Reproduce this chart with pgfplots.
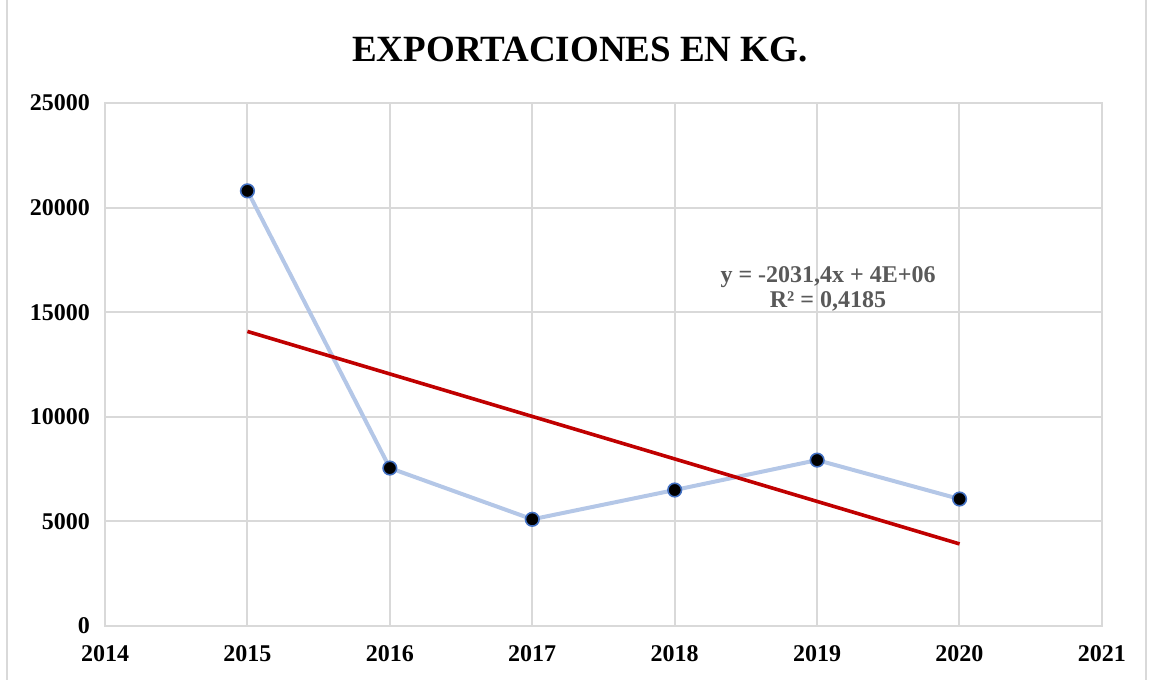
\documentclass[border=0pt]{standalone}
\usepackage{fontspec}
\setmainfont{Liberation Serif}
\usepackage{pgfplots}
\pgfplotsset{compat=1.18}
\definecolor{gridgray}{HTML}{D9D9D9}
\definecolor{serie}{HTML}{B4C7E7}
\definecolor{marca}{HTML}{4472C4}
\definecolor{tendencia}{HTML}{C00000}
\definecolor{textogris}{HTML}{595959}
\begin{document}
\begin{tikzpicture}
\path[use as bounding box] (0,0) rectangle (574.5pt,339.5pt);
\draw[gridgray, line width=0.8pt] (3.5pt,-1pt) rectangle (573pt,340pt);
\begin{axis}[
  at={(52.5pt,26.5pt)}, anchor=south west,
  scale only axis, width=498.5pt, height=261.5pt,
  xmin=2014, xmax=2021, ymin=0, ymax=25000,
  xtick={2014,...,2021}, ytick={0,5000,...,25000},
  scaled y ticks=false,
  grid=major,
  major grid style={gridgray, line width=1pt},
  axis line style={gridgray, line width=1pt},
  major tick length=0pt,
  /pgf/number format/assume math mode=true,
  xticklabel style={/pgf/number format/1000 sep={}, yshift=-6pt},
  yticklabel style={/pgf/number format/1000 sep={}, xshift=-4pt},
  ticklabel style={font=\bfseries\fontsize{12}{12}\selectfont},
  clip=false,
]
\addplot[serie, line width=2pt, mark=*, mark size=3.4pt,
  mark options={fill=black, draw=marca, line width=0.8pt}] coordinates {
  (2015,20800) (2016,7550) (2017,5100) (2018,6500) (2019,7930) (2020,6070)
};
\addplot[tendencia, line width=1.8pt] coordinates {
  (2015,14080) (2020,3923)
};
\end{axis}
\node[font=\bfseries\fontsize{18.5}{20}\selectfont] at (290pt,314.5pt) {EXPORTACIONES EN KG.};
\node[font=\bfseries\fontsize{12}{12.5}\selectfont, text=textogris, align=center] at (414pt,195pt) {y = -2031,4x + 4E+06\\R² = 0,4185};
\end{tikzpicture}
\end{document}
